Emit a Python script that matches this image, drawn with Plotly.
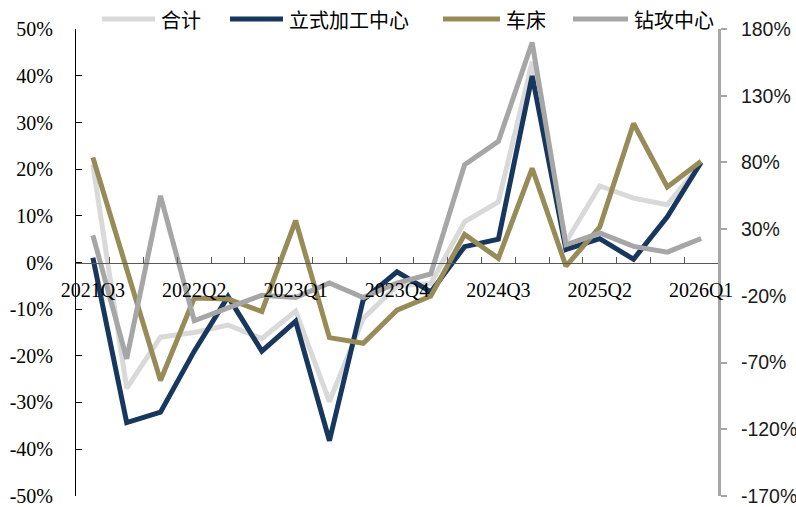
import plotly.graph_objects as go

categories = ["2021Q3", "2021Q4", "2022Q1", "2022Q2", "2022Q3", "2022Q4",
              "2023Q1", "2023Q2", "2023Q3", "2023Q4", "2024Q1", "2024Q2",
              "2024Q3", "2024Q4", "2025Q1", "2025Q2", "2025Q3", "2025Q4", "2026Q1"]

names = ["合计", "立式加工中心", "车床", "钻攻中心"]

total = [21, -27, -16, -15, -13.4, -16.3, -10.4, -29.8, -12, -5,
         -4.5, 8.7, 13, 43, 4.4, 16.4, 13.8, 12.4, 21.2]
vertical_mc = [1, -34.3, -32.1, -19, -7.3, -19, -12.6, -38.2, -8, -2,
               -6.3, 3.4, 5, 40, 2.8, 5.1, 0.7, 9.8, 21.5]
lathe = [22.5, -1, -25.3, -7.6, -7.8, -10.5, 9, -16.1, -17.3, -10.2,
         -7.2, 6, 0.9, 20.2, -0.8, 7.6, 29.8, 16.2, 21.7]
drill_tap = [25.4, -67.2, 55, -38.7, -29, -19.5, -21.3, -10.4, -21.3, -10.4,
             -3.5, 78.3, 95.8, 170, 18.3, 27.1, 17.1, 12.8, 23]

left_ticks = list(range(-50, 51, 10))
right_ticks = list(range(-170, 181, 50))

colors = ["#d9d9d9", "#17375e", "#978c57", "#a6a6a6"]
series = [total, vertical_mc, lathe, drill_tap]
axes = ["y", "y", "y", "y2"]

W, H = 796, 507
L, R, T, B = 76, 718, 29, 496

fig = go.Figure()
for name, vals, col, ax in zip(names, series, colors, axes):
    fig.add_trace(go.Scatter(x=categories, y=vals, name=name, mode="lines",
                             line=dict(color=col, width=5), yaxis=ax,
                             showlegend=False))

serif = "Liberation Serif"
sans = "Liberation Sans"
cjk = "Noto Sans CJK SC"

ticktext = [c if i % 3 == 0 else "" for i, c in enumerate(categories)]

fig.update_layout(
    width=W, height=H,
    margin=dict(l=L, r=W - R, t=T, b=H - B, pad=0, autoexpand=False),
    paper_bgcolor="white", plot_bgcolor="white",
    xaxis=dict(type="category", categoryorder="array", categoryarray=categories,
               range=[-0.5, len(categories) - 0.5],
               tickmode="array", tickvals=categories, ticktext=ticktext,
               tickson="boundaries", ticks="inside", ticklen=6,
               tickcolor="#595959", tickwidth=1, tickangle=0,
               showline=True, linecolor="#595959", linewidth=1,
               showgrid=False, zeroline=False, automargin=False,
               anchor="free", position=0.5,
               ticklabelstandoff=9, ticklabeloverflow="allow",
               tickfont=dict(family=serif, size=20, color="black")),
    yaxis=dict(range=[-50.05, 50.05], tickmode="array", tickvals=left_ticks,
               ticktext=[f"{v}%" for v in left_ticks],
               ticks="inside", ticklen=6, tickcolor="black",
               showline=True, linecolor="black", linewidth=1,
               showgrid=False, zeroline=False, automargin=False,
               ticklabelstandoff=18, ticklabeloverflow="allow",
               tickfont=dict(family=serif, size=20, color="black")),
    yaxis2=dict(range=[-170.1, 180.1], tickmode="array", tickvals=right_ticks,
                ticktext=[f"{v}%" for v in right_ticks],
                overlaying="y", side="right",
                ticks="outside", ticklen=6, tickcolor="#a6a6a6", tickwidth=2,
                showline=True, linecolor="#a6a6a6", linewidth=3,
                showgrid=False, zeroline=False, automargin=False,
                ticklabelstandoff=10, ticklabeloverflow="allow",
                tickfont=dict(family=sans, size=19.5, color="#1a1a1a")),
)

# manual legend (line sample + label)
def px(x):
    return (x - L) / (R - L)

def py(y):
    return (B - y) / (B - T)

legend_pos = [(102, 155), (230, 283), (443, 500), (573, 628)]
for name, col, (x0, x1) in zip(names, colors, legend_pos):
    fig.add_shape(type="line", xref="paper", yref="paper",
                  x0=px(x0), x1=px(x1), y0=py(19), y1=py(19),
                  line=dict(color=col, width=5))
    fig.add_annotation(xref="paper", yref="paper", x=px(x1 + 4), y=py(19),
                       text=name, showarrow=False, xanchor="left", yanchor="middle",
                       font=dict(family=cjk, size=20, color="black"))

fig.write_html("out.html")
